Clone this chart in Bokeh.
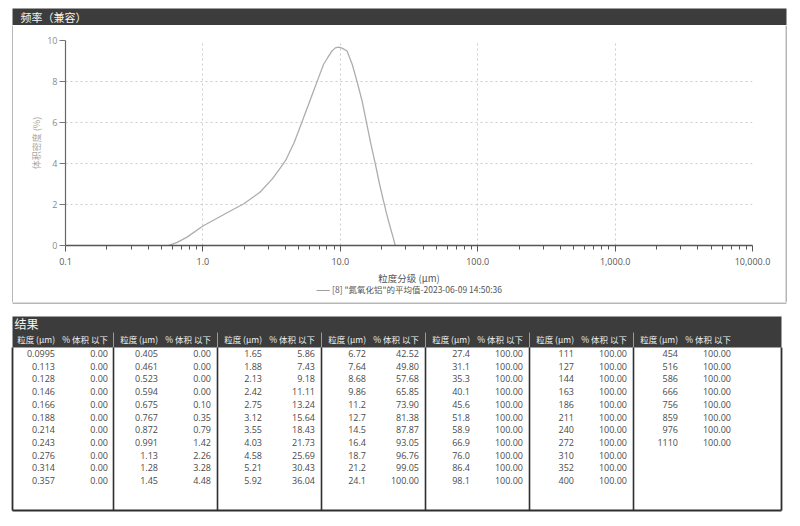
from bokeh.plotting import figure
from bokeh.layouts import column, row
from bokeh.models import Range1d, FixedTicker, Title
from bokeh.core.properties import value
from bokeh.embed import file_html
from bokeh.resources import INLINE

CJK = "Noto Sans CJK SC"
LAT = "Open Sans"

# ---------------- data ----------------
panel_title = "频率（兼容）"
y_axis_title = "体积密度 (%)"
x_axis_title = "粒度分级 (μm)"
legend_text = '[8] "氮氧化铝"的平均值-2023-06-09 14:50:36'

x_ticks = [0.1, 1, 10, 100, 1000, 10000]
x_tick_labels = ["0.1", "1.0", "10.0", "100.0", "1,000.0", "10,000.0"]
y_ticks = [0, 2, 4, 6, 8, 10]

curve_size = [0.56, 0.65, 0.767, 1.0, 1.5, 2.0, 2.6, 3.2, 3.47, 4.0, 4.21, 4.6,
              4.98, 5.41, 5.89, 6.39, 6.95, 7.56, 8.09, 8.7, 9.2, 9.7, 10.3,
              11.2, 12.2, 13.2, 14.4, 15.6, 16.7, 18.0, 19.3, 20.6, 21.9, 23.1,
              24.2, 25.1]
curve_density = [0.0, 0.15, 0.41, 0.95, 1.6, 2.05, 2.6, 3.25, 3.57, 4.15, 4.46, 5.0,
                 5.6, 6.24, 6.9, 7.54, 8.19, 8.84, 9.16, 9.49, 9.64, 9.68, 9.63,
                 9.49, 8.84, 8.03, 7.06, 5.92, 4.95, 3.97, 3.0, 2.19, 1.46, 0.89,
                 0.41, 0.0]

table_title = "结果"
hdr_size = "粒度 (μm)"
hdr_pct = "% 体积 以下"

size_col1 = ["0.0995", "0.113", "0.128", "0.146", "0.166", "0.188", "0.214", "0.243", "0.276", "0.314", "0.357"]
size_col2 = ["0.405", "0.461", "0.523", "0.594", "0.675", "0.767", "0.872", "0.991", "1.13", "1.28", "1.45"]
size_col3 = ["1.65", "1.88", "2.13", "2.42", "2.75", "3.12", "3.55", "4.03", "4.58", "5.21", "5.92"]
size_col4 = ["6.72", "7.64", "8.68", "9.86", "11.2", "12.7", "14.5", "16.4", "18.7", "21.2", "24.1"]
size_col5 = ["27.4", "31.1", "35.3", "40.1", "45.6", "51.8", "58.9", "66.9", "76.0", "86.4", "98.1"]
size_col6 = ["111", "127", "144", "163", "186", "211", "240", "272", "310", "352", "400"]
size_col7 = ["454", "516", "586", "666", "756", "859", "976", "1110"]

pct_col1 = [0.00] * 11
pct_col2 = [0.00, 0.00, 0.00, 0.00, 0.10, 0.35, 0.79, 1.42, 2.26, 3.28, 4.48]
pct_col3 = [5.86, 7.43, 9.18, 11.11, 13.24, 15.64, 18.43, 21.73, 25.69, 30.43, 36.04]
pct_col4 = [42.52, 49.80, 57.68, 65.85, 73.90, 81.38, 87.87, 93.05, 96.76, 99.05, 100.00]
pct_col5 = [100.00] * 11
pct_col6 = [100.00] * 11
pct_col7 = [100.00] * 8

size_cols = [size_col1, size_col2, size_col3, size_col4, size_col5, size_col6, size_col7]
pct_cols = [pct_col1, pct_col2, pct_col3, pct_col4, pct_col5, pct_col6, pct_col7]

DARK = "#3c3c3c"
BORDER = "#707070"
W = 792


def no_align(fig):
    try:
        fig.frame_align = False
    except Exception:
        pass


def blank(width, height, x0, x1, y0, y1):
    f = figure(width=width, height=height, x_range=Range1d(x0, x1), y_range=Range1d(y1, y0),
               output_backend="svg", toolbar_location=None, min_border=0,
               min_border_left=0, min_border_right=0, min_border_top=0, min_border_bottom=0,
               x_axis_location=None, y_axis_location=None,
               background_fill_color="white", border_fill_color="white", outline_line_color=None)
    f.grid.visible = False
    no_align(f)
    return f


# ---------------- title bar of chart panel (page y 0..25) ----------------
tb = blank(W, 25, 0, W, 0, 25)
tb.quad(left=[12], right=[786], top=[8], bottom=[25], fill_color=DARK, line_color=None)
tb.text(x=[20], y=[16.5], text=[panel_title], text_font=value(CJK), text_font_size="11px",
        text_color="#f4f4f4", text_baseline="middle", text_align="left")

# side borders of the chart panel (page y 25..302)
lfig = blank(13, 277, 0, 13, 25, 302)
lfig.segment(x0=[12.5], x1=[12.5], y0=[25], y1=[302], line_color=BORDER, line_width=1)
rfig = blank(7, 277, 785, 792, 25, 302)
rfig.segment(x0=[785.5], x1=[785.5], y0=[25], y1=[302], line_color=BORDER, line_width=1)

# ---------------- chart (page x 13..785, y 25..302) ----------------
p = figure(width=772, height=277, x_axis_type="log",
           x_range=Range1d(0.1, 10000), y_range=Range1d(0, 10),
           output_backend="svg", toolbar_location=None,
           min_border_left=52, min_border_right=33, min_border_top=15, min_border_bottom=57,
           background_fill_color="white", border_fill_color="white", outline_line_color=None)
no_align(p)

x_minor = [m * 10.0 ** e for e in range(-1, 4) for m in range(2, 10)]
p.xaxis.ticker = FixedTicker(ticks=x_ticks, minor_ticks=x_minor)
p.xaxis.major_label_overrides = {t: l for t, l in zip(x_ticks, x_tick_labels)}
p.yaxis.ticker = FixedTicker(ticks=y_ticks, minor_ticks=[])

p.xgrid.ticker = FixedTicker(ticks=x_ticks)
p.ygrid.ticker = FixedTicker(ticks=y_ticks)
p.grid.grid_line_color = "#cccccc"
p.grid.grid_line_dash = "2 3"
p.grid.grid_line_width = 1

p.xaxis.axis_label = x_axis_title
p.xaxis.axis_label_text_font = CJK
p.xaxis.axis_label_text_font_size = "9.5px"
p.xaxis.axis_label_text_font_style = "normal"
p.xaxis.axis_label_text_color = "#555555"
p.xaxis.axis_label_standoff = 3
p.xaxis.major_label_text_font = LAT
p.xaxis.major_label_text_font_size = "9px"
p.xaxis.major_label_text_color = "#555555"
p.xaxis.major_label_standoff = 6
p.xaxis.major_tick_out = 6
p.xaxis.major_tick_in = 0
p.xaxis.minor_tick_out = 4
p.xaxis.minor_tick_in = 0
p.xaxis.axis_line_color = "#555555"
p.xaxis.axis_line_width = 1.3
p.xaxis.major_tick_line_color = "#555555"
p.xaxis.minor_tick_line_color = "#555555"

p.yaxis.axis_label = y_axis_title
p.yaxis.axis_label_text_font = CJK
p.yaxis.axis_label_text_font_size = "9px"
p.yaxis.axis_label_text_font_style = "normal"
p.yaxis.axis_label_text_color = "#a8a8a8"
p.yaxis.axis_label_standoff = 1
p.yaxis.major_label_text_font = LAT
p.yaxis.major_label_text_font_size = "9px"
p.yaxis.major_label_text_color = "#8a8a8a"
p.yaxis.major_label_standoff = 2
p.yaxis.major_tick_out = 6
p.yaxis.major_tick_in = 0
p.yaxis.minor_tick_out = 0
p.yaxis.axis_line_color = "#666666"
p.yaxis.axis_line_width = 1.2
p.yaxis.major_tick_line_color = "#777777"

p.line(curve_size, curve_density, line_color="#adadad", line_width=1.3)

p.add_layout(Title(text="—— " + legend_text, align="center", text_font=CJK,
                   text_font_size="8.5px", text_font_style="normal", text_color="#555555",
                   standoff=-14), "below")

# ---------------- results table (page y 302..518) ----------------
t = blank(W, 216, 0, W, 302, 518)
# bottom border of the chart panel
t.segment(x0=[12], x1=[786], y0=[302.5], y1=[302.5], line_color=BORDER, line_width=1)

TL, TR = 12, 781
T_TOP, T_HDR, T_BOT = 316, 347, 510
dividers = [113, 217, 321, 425, 529, 633]
col_ref = [10] + dividers
row_y0, row_dy = 353, 12.7

t.quad(left=[TL], right=[TR], top=[T_TOP], bottom=[T_HDR], fill_color=DARK, line_color=None)
t.segment(x0=dividers, x1=dividers, y0=[332] * 6, y1=[T_HDR] * 6, line_color="#9a9a9a", line_width=1)
t.segment(x0=dividers, x1=dividers, y0=[T_HDR] * 6, y1=[T_BOT] * 6, line_color="#2e2e2e", line_width=1.6)
t.segment(x0=[TL, TR, TL], x1=[TL, TR, TR], y0=[T_HDR, T_HDR, T_BOT], y1=[T_BOT, T_BOT, T_BOT],
          line_color="#2e2e2e", line_width=1.8)

t.text(x=[14], y=[323], text=[table_title], text_font=value(CJK), text_font_size="12px",
       text_color="#f4f4f4", text_baseline="middle", text_align="left")

hx, hy, ht = [], [], []
for c in col_ref:
    hx += [c + 44.5, c + 97.5]
    hy += [338.5, 338.5]
    ht += [hdr_size, hdr_pct]
t.text(x=hx, y=hy, text=ht, text_font=value(CJK), text_font_size="8.5px",
       text_color="#f0f0f0", text_baseline="middle", text_align="right")

vx, vy, vt = [], [], []
for c, sc, pc in zip(col_ref, size_cols, pct_cols):
    for i, (s, v) in enumerate(zip(sc, pc)):
        y = row_y0 + i * row_dy
        vx += [c + 44.5, c + 97.5]
        vy += [y, y]
        vt += [s, f"{v:.2f}"]
t.text(x=vx, y=vy, text=vt, text_font=value(LAT), text_font_size="9px",
       text_color="#4a4a4a", text_baseline="middle", text_align="right")

middle = row(column(lfig), column(p), column(rfig), spacing=0)
root = column(row(tb), middle, row(t), spacing=0)

open("out.html", "w").write(file_html(root, INLINE))
